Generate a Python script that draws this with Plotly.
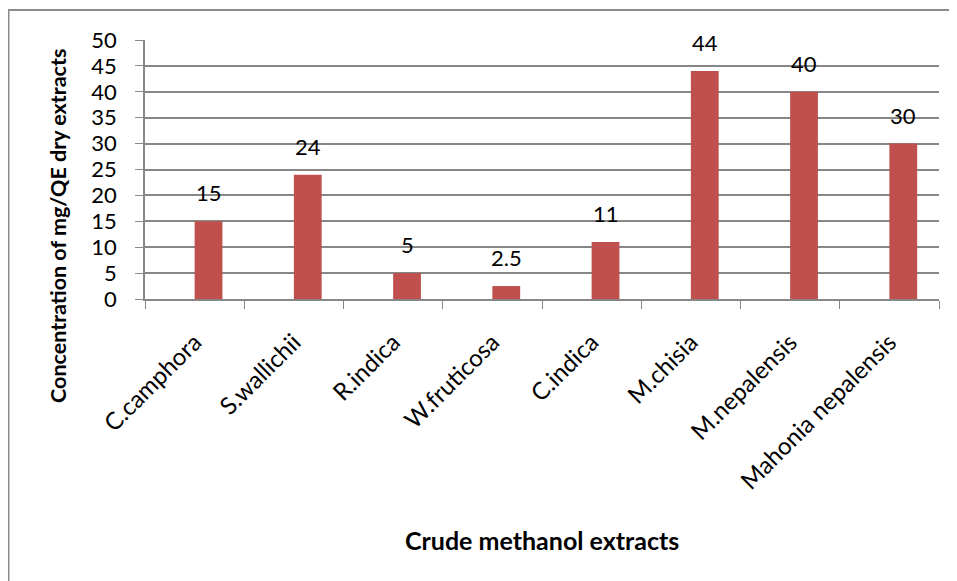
import plotly.graph_objects as go

categories = ["C.camphora", "S.wallichii", "R.indica", "W.fruticosa",
              "C.indica", "M.chisia", "M.nepalensis", "Mahonia nepalensis"]
values = [15, 24, 5, 2.5, 11, 44, 40, 30]
y_ticks = [0, 5, 10, 15, 20, 25, 30, 35, 40, 45, 50]

FONT = "Lato, Carlito, Calibri, sans-serif"
BAR_W = 0.28

fig = go.Figure()
fig.add_trace(go.Bar(
    x=categories, y=values,
    marker=dict(color="#C0504D", line=dict(width=0)),
    width=BAR_W, offset=0,
    hoverinfo="x+y",
))

for i, v in enumerate(values):
    fig.add_annotation(
        x=i + BAR_W / 2, y=v, xref="x", yref="y",
        text=str(v), showarrow=False, yanchor="bottom", yshift=13,
        font=dict(family=FONT, size=22, color="black"),
    )

# axis titles
fig.add_annotation(
    x=-0.1096, y=0.282, xref="paper", yref="paper",
    text="<b>Concentration of mg/QE dry extracts</b>", textangle=-90,
    showarrow=False, xanchor="center", yanchor="middle",
    font=dict(family=FONT, size=21.5, color="black"),
)
fig.add_annotation(
    x=0.5, y=-0.93, xref="paper", yref="paper",
    text="<b>Crude methanol extracts</b>",
    showarrow=False, xanchor="center", yanchor="middle",
    font=dict(family=FONT, size=25, color="black"),
)

# outer chart border
fig.add_shape(type="rect", xref="paper", yref="paper",
              x0=-0.1719, y0=-1.5, x1=1.2, y1=1.1158,
              line=dict(color="#8c8c8c", width=2), fillcolor="rgba(0,0,0,0)")

fig.update_layout(
    width=949, height=573,
    margin=dict(l=137, r=18, t=32, b=282, autoexpand=False),
    paper_bgcolor="white", plot_bgcolor="white",
    showlegend=False,
    font=dict(family=FONT, size=20, color="black"),
)
fig.update_xaxes(
    type="category", tickangle=-45, tickson="boundaries",
    ticks="outside", ticklen=8, tickcolor="#878787",
    showline=True, linecolor="#878787", linewidth=1.5,
    showgrid=False, automargin=False,
    tickfont=dict(family=FONT, size=24, color="black"),
    ticklabelstandoff=18,
    range=[-0.5, 7.5],
)
fig.update_yaxes(
    range=[0, 50], tickvals=y_ticks,
    ticks="outside", ticklen=8, tickcolor="#878787",
    showline=True, linecolor="#878787", linewidth=1.5,
    showgrid=True, gridcolor="#878787", gridwidth=1.5,
    zeroline=False, automargin=False,
    tickfont=dict(family=FONT, size=22, color="black"),
    ticklabelstandoff=14,
)

fig.write_html("out.html")
